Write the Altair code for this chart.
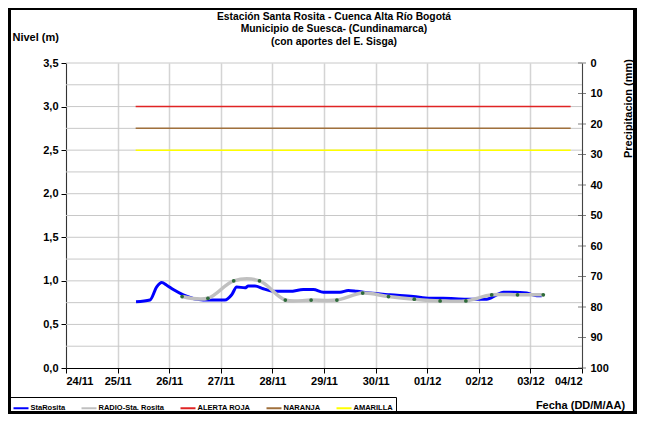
import altair as alt
import pandas as pd

# ---- data ----
title_lines = ["Estación Santa Rosita - Cuenca Alta Río Bogotá",
               "Municipio de Suesca- (Cundinamarca)",
               "(con aportes del  E. Sisga)"]

day_labels = ["24/11", "25/11", "26/11", "27/11", "28/11", "29/11",
              "30/11", "01/12", "02/12", "03/12", "04/12"]

blue_day = [1.357, 1.628, 1.758, 1.855, 1.952, 2.079, 2.273, 2.533, 2.791, 3.081,
            3.211, 3.308, 3.469, 3.533, 3.663, 3.824, 4.017, 4.341, 4.599, 4.793,
            4.986, 5.310, 5.471, 5.634, 5.891, 6.279, 6.731, 7.054, 7.310, 7.766,
            8.153, 8.347, 8.475, 8.669, 8.928, 9.122, 9.219]
blue_val = [0.76, 0.78, 0.93, 0.98, 0.95, 0.90, 0.84, 0.79, 0.78, 0.78,
            0.84, 0.93, 0.92, 0.94, 0.94, 0.91, 0.88, 0.88, 0.90, 0.90,
            0.87, 0.87, 0.89, 0.88, 0.86, 0.84, 0.82, 0.80, 0.80, 0.79,
            0.79, 0.84, 0.87, 0.87, 0.86, 0.83, 0.83]

radio_day = [2.25, 2.75, 3.25, 3.75, 4.25, 4.75, 5.25, 5.75, 6.25, 6.75,
             7.25, 7.75, 8.25, 8.75, 9.25]
radio_val = [0.82, 0.80, 1.00, 1.00, 0.78, 0.78, 0.78, 0.86, 0.82, 0.79,
             0.77, 0.77, 0.84, 0.84, 0.84]

thr_names = ["ALERTA ROJA", "NARANJA", "AMARILLA"]
thr_vals = [3.0, 2.75, 2.5]
thr_start = 1.35
thr_end = 9.78

series = ["StaRosita", "RADIO-Sta. Rosita", "ALERTA ROJA", "NARANJA", "AMARILLA"]
series_colors = ["#0000ff", "#c0c0c0", "#e02424", "#a0703c", "#ffff00"]

hgrid_vals = [0.25, 0.5, 0.75, 1.0, 1.25, 1.5, 1.75, 2.0, 2.25, 2.5, 2.75,
              3.0, 3.25, 3.5]
precip_ticks = [0, 10, 20, 30, 40, 50, 60, 70, 80, 90, 100]

FONT = "Liberation Sans"

blue_df = pd.DataFrame({"d": blue_day, "v": blue_val, "serie": "StaRosita"})
radio_df = pd.DataFrame({"d": radio_day, "v": radio_val, "serie": "RADIO-Sta. Rosita"})
thr_df = pd.DataFrame({"serie": thr_names, "v": thr_vals,
                       "d": [thr_start] * 3, "d2": [thr_end] * 3})
grid_df = pd.DataFrame({"v": hgrid_vals})
precip_df = pd.DataFrame({"p": precip_ticks, "d": [10] * len(precip_ticks)})
title_df = pd.DataFrame({"t": ["\n".join(title_lines)]})

label_expr = "[" + ",".join("'%s'" % s for s in day_labels) + "][round(datum.value)]"

xscale = alt.Scale(domain=[0, 10], nice=False, zero=False)
xaxis = alt.Axis(values=list(range(11)), labelExpr=label_expr, grid=True,
                 gridColor="#d4d4d4", gridWidth=1.5, tickColor="#000000",
                 domainColor="#000000", tickSize=5, labelPadding=2,
                 title="Fecha (DD/M/AA)", titleX=514, titleY=37,
                 titleAlign="center", titleBaseline="middle", titleFontSize=11)
yscale = alt.Scale(domain=[0, 3.5], nice=False, zero=True)
yaxis = alt.Axis(values=[0, 0.5, 1, 1.5, 2, 2.5, 3, 3.5], grid=False,
                 labelExpr="replace(format(datum.value, '.1f'), '.', ',')",
                 tickSize=5, tickColor="#000000", domainColor="#333333",
                 labelPadding=3, title="Nivel (m)", titleAngle=0, titleX=-54,
                 titleY=-26, titleAlign="left", titleBaseline="middle",
                 titleFontSize=11)

X = alt.X("d:Q", scale=xscale, axis=xaxis)
Y = alt.Y("v:Q", scale=yscale, axis=yaxis)

color = alt.Color("serie:N", scale=alt.Scale(domain=series, range=series_colors),
                  legend=alt.Legend(title=None, orient="none", legendX=-56,
                                    legendY=334, direction="horizontal",
                                    symbolType="stroke", symbolSize=225,
                                    symbolStrokeWidth=2, labelFontSize=7.5,
                                    labelFont=FONT, labelFontWeight="bold",
                                    labelColor="#000000",
                                    strokeColor="#000000", padding=2.5,
                                    columnPadding=12, labelOffset=1))

grid = alt.Chart(grid_df).mark_rule(color="#c8c8c8", strokeWidth=1).encode(
    y=Y, x=alt.value(0), x2=alt.value(516))

thr = alt.Chart(thr_df).mark_rule(strokeWidth=1.5).encode(
    x=X, x2="d2:Q", y=Y, color=color)

blue = alt.Chart(blue_df).mark_line(strokeWidth=3, interpolate="monotone").encode(
    x=X, y=Y, color=color)

radio = alt.Chart(radio_df).mark_line(strokeWidth=3.5, interpolate="catmull-rom").encode(
    x=X, y=Y, color=color)

dots = alt.Chart(radio_df).mark_point(filled=True, size=14, color="#2e6b3a",
                                      opacity=1).encode(x=X, y=Y)

level = alt.layer(grid, thr, blue, radio, dots)

precip = alt.Chart(precip_df).mark_tick(color="#444444", size=8, thickness=1,
                                        orient="horizontal").encode(
    x=X,
    y=alt.Y("p:Q", scale=alt.Scale(domain=[0, 100], reverse=True, nice=False),
            axis=alt.Axis(orient="right", values=precip_ticks, tickSize=0,
                          labelPadding=8, domainColor="#444444", grid=False,
                          title="Precipitacion (mm)", titleAngle=270,
                          titleX=46, titleY=45, titleAlign="center",
                          titleBaseline="middle", titleFontSize=11)))

frame = alt.Chart(grid_df).mark_rect(fill=None, stroke="#000000", strokeWidth=3).encode(
    x=alt.value(-57), x2=alt.value(569), y=alt.value(-54.5), y2=alt.value(349.5))

title_txt = alt.Chart(title_df).mark_text(
    font=FONT, fontSize=10.3, fontWeight="bold", color="#000000",
    align="center", baseline="top", lineBreak="\n", lineHeight=12.5
).encode(text="t:N", x=alt.value(268), y=alt.value(-51.5))

chart = alt.layer(level, precip, frame, title_txt).resolve_scale(y="independent").properties(
    width=516, height=305,
    padding={"left": 58, "top": 55, "right": 55, "bottom": 46},
    autosize=alt.AutoSizeParams(type="none"),
).configure_axis(
    labelFont=FONT, labelFontSize=11, labelFontWeight="bold", labelColor="#000000",
    titleFont=FONT, titleFontWeight="bold", titleColor="#000000",
).configure_view(stroke=None)

chart.save("out.html", embed_options={"renderer": "svg", "actions": False})
